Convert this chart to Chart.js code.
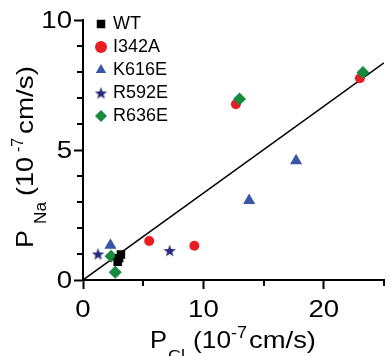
<!DOCTYPE html>
<html>
<head>
<meta charset="utf-8">
<script src="https://cdn.jsdelivr.net/npm/chart.js@4.4.1/dist/chart.umd.min.js"></script>
<style>
  html, body { margin: 0; padding: 0; background: #fff; }
</style>
</head>
<body>
<canvas id="chart" width="391" height="356"></canvas>
<script>
// values (units: 10^-7 cm/s)
var names = ['WT', 'I342A', 'K616E', 'R592E', 'R636E'];
var wtX = [3.15, 3.0, 2.88];
var wtY = [0.98, 0.84, 0.7];
var i342aX = [5.5, 9.25, 12.7, 23.0];
var i342aY = [1.5, 1.32, 6.76, 7.76];
var k616eX = [2.28, 13.8, 17.7];
var k616eY = [1.34, 3.06, 4.59];
var r592eX = [1.25, 7.2];
var r592eY = [1.0, 1.13];
var r636eX = [2.33, 2.68, 13.0, 23.25];
var r636eY = [0.91, 0.3, 6.96, 7.98];
// reference line
var lineX = [0, 25];
var lineY = [0, 8.35];
// ticks
var xTicks = [0, 10, 20];
var yTicks = [0, 5, 10];
var xMinor = [5, 15, 25];
var yMinor = [1, 2, 3, 4, 6, 7, 8, 9];

var FONT = '"Liberation Sans", Arial, sans-serif';

function pts(xs, ys) {
    return xs.map(function (x, i) { return {x: x, y: ys[i]}; });
}

// filled five point star, chart.js 'star' is only a line asterisk
function makeStar(size, color) {
    var c = document.createElement('canvas');
    c.width = size;
    c.height = size;
    var g = c.getContext('2d');
    var cx = size / 2, cy = size / 2 + 0.6, R = size / 2, r = R * 0.42;
    g.beginPath();
    for (var i = 0; i < 10; i++) {
        var a = -Math.PI / 2 + i * Math.PI / 5;
        var rad = i % 2 === 0 ? R : r;
        g.lineTo(cx + rad * Math.cos(a), cy + rad * Math.sin(a));
    }
    g.closePath();
    g.fillStyle = color;
    g.fill();
    return c;
}

function scatterSet(label, xs, ys, color, style, radius, order) {
    return {
        label: label,
        data: pts(xs, ys),
        pointStyle: style,
        pointRadius: radius,
        pointHoverRadius: radius,
        backgroundColor: color,
        borderColor: color,
        pointBorderWidth: 0,
        order: order
    };
}

// horizontal text piece stretched to fit [x0, x1]
function piece(ctx, text, size, x0, x1, y) {
    ctx.font = size + 'px ' + FONT;
    var w = ctx.measureText(text).width;
    ctx.save();
    ctx.translate(x0, y);
    ctx.scale((x1 - x0) / w, 1);
    ctx.fillText(text, 0, 0);
    ctx.restore();
}

// vertical (rotated) text piece, from yBottom up to yTop
function vpiece(ctx, text, size, yBottom, yTop, x) {
    ctx.font = size + 'px ' + FONT;
    var w = ctx.measureText(text).width;
    ctx.save();
    ctx.translate(x, yBottom);
    ctx.rotate(-Math.PI / 2);
    ctx.scale((yBottom - yTop) / w, 1);
    ctx.fillText(text, 0, 0);
    ctx.restore();
}

// tick label, the figure's digits are a bit wider than the font
function tickLabel(ctx, text, x, y, align) {
    ctx.save();
    ctx.translate(x, y);
    ctx.scale(1.2, 1);
    ctx.textAlign = align;
    ctx.fillText(text, 0, 0);
    ctx.restore();
}

var extras = {
    id: 'extras',
    afterLayout: function (chart) {
        // move legend to the upper left corner of the plot
        chart.legend.left = 93;
        chart.legend.top = 10;
    },
    afterDraw: function (chart) {
        var ctx = chart.ctx;
        var xs = chart.scales.x, ys = chart.scales.y;
        ctx.save();
        ctx.strokeStyle = '#000';
        ctx.lineWidth = 2;
        ctx.beginPath();
        yMinor.forEach(function (v) {
            var p = Math.round(ys.getPixelForValue(v));
            ctx.moveTo(ys.right - 6, p);
            ctx.lineTo(ys.right, p);
        });
        xMinor.forEach(function (v) {
            var p = Math.round(xs.getPixelForValue(v));
            ctx.moveTo(p, xs.top);
            ctx.lineTo(p, xs.top + 6);
        });
        ctx.stroke();

        ctx.fillStyle = '#000';
        ctx.textBaseline = 'alphabetic';
        ctx.font = '23px ' + FONT;
        yTicks.forEach(function (v) {
            tickLabel(ctx, String(v), ys.right - 11, ys.getPixelForValue(v) + 8, 'right');
        });
        xTicks.forEach(function (v) {
            tickLabel(ctx, String(v), xs.getPixelForValue(v), xs.top + 37, 'center');
        });

        ctx.textAlign = 'left';
        // x title: P_Cl (10^-7 cm/s)
        piece(ctx, 'P', 24, 150, 167, 348);
        piece(ctx, 'Cl', 15, 168, 185, 360);
        piece(ctx, '(10', 24, 193, 231, 348);
        piece(ctx, '-7', 16, 231, 247, 338);
        piece(ctx, 'cm/s)', 24, 249, 316, 348);
        // y title: P_Na (10^-7 cm/s)
        vpiece(ctx, 'P', 24, 248, 230, 33);
        vpiece(ctx, 'Na', 16, 224, 202, 46);
        vpiece(ctx, '(10', 24, 196, 157, 33);
        vpiece(ctx, '-7', 16, 152, 138, 23);
        vpiece(ctx, 'cm/s)', 24, 134, 66, 33);
        ctx.restore();
    }
};

var datasets = [
    scatterSet(names[0], wtX, wtY, '#000000', 'rect', 6, 0),
    scatterSet(names[1], i342aX, i342aY, '#ec1c24', 'circle', 5, 2),
    scatterSet(names[2], k616eX, k616eY, '#3b55a6', 'triangle', 7, 3),
    scatterSet(names[3], r592eX, r592eY, '#262a7e', makeStar(13, '#262a7e'), 6, 4),
    scatterSet(names[4], r636eX, r636eY, '#178a3e', 'rectRot', 6.5, 1),
    {
        label: 'fit',
        data: pts(lineX, lineY),
        showLine: true,
        borderColor: '#000',
        borderWidth: 1.5,
        pointRadius: 0,
        order: 10
    }
];

new Chart(document.getElementById('chart'), {
    type: 'scatter',
    data: {datasets: datasets},
    options: {
        responsive: false,
        animation: false,
        layout: {padding: {left: 0, top: 20, right: 1, bottom: 0}},
        plugins: {
            tooltip: {enabled: false},
            legend: {
                position: 'chartArea',
                align: 'start',
                labels: {
                    usePointStyle: true,
                    boxWidth: 6,
                    boxHeight: 8.5,
                    padding: 5,
                    color: '#000',
                    font: {family: FONT, size: 18},
                    filter: function (item) { return item.datasetIndex < 5; },
                    sort: function (a, b) { return a.datasetIndex - b.datasetIndex; }
                }
            }
        },
        scales: {
            x: {
                type: 'linear',
                min: 0,
                max: 25,
                afterBuildTicks: function (scale) {
                    scale.ticks = xTicks.map(function (v) { return {value: v}; });
                },
                afterFit: function (scale) { scale.height = 76; },
                border: {color: '#000', width: 2},
                grid: {drawOnChartArea: false, tickLength: 9, tickColor: '#000', tickWidth: 2},
                ticks: {display: false}
            },
            y: {
                type: 'linear',
                min: 0,
                max: 10,
                afterBuildTicks: function (scale) {
                    scale.ticks = yTicks.map(function (v) { return {value: v}; });
                },
                afterFit: function (scale) { scale.width = 83; },
                border: {color: '#000', width: 2},
                grid: {drawOnChartArea: false, tickLength: 9, tickColor: '#000', tickWidth: 2},
                ticks: {display: false}
            }
        }
    },
    plugins: [extras]
});
</script>
</body>
</html>
